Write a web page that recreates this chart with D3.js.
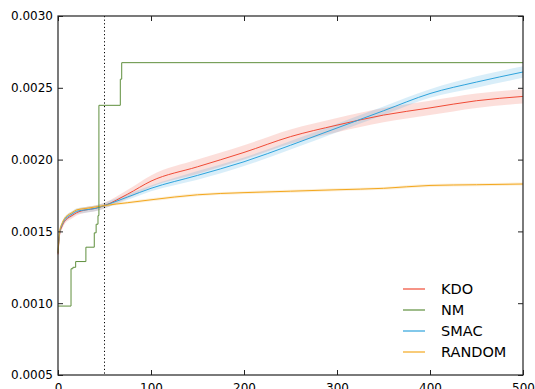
<!DOCTYPE html>
<html>
<head>
<meta charset="utf-8">
<script src="https://cdn.jsdelivr.net/npm/d3@7"></script>
<style>
  body { margin: 0; background: #fff; }
  svg text { font-family: "DejaVu Sans", sans-serif; fill: #000; }
</style>
</head>
<body>
<div id="chart"></div>
<script>
// evaluations (x) at which the averaged curves were read
const iters = [0, 1, 2, 4, 7, 10, 15, 20, 30, 40, 50, 75, 100, 150, 200, 250, 300, 350, 400, 450, 500]
const kdo = [0.00134, 0.00143, 0.00149, 0.00153, 0.00157, 0.00159, 0.00161, 0.00163, 0.00165, 0.00166, 0.00168, 0.00176, 0.00185, 0.00195, 0.00205, 0.00216, 0.00224, 0.00231, 0.00236, 0.00241, 0.00244]
const kdo_err = [0.00002, 0.00002, 0.00002, 0.00002, 0.00002, 0.00002, 0.00002, 0.00002, 0.00002, 0.00002, 0.00002, 0.00003, 0.00004, 0.00005, 0.00005, 0.00005, 0.00005, 0.00005, 0.00005, 0.00005, 0.00005]
const smac = [0.00135, 0.00144, 0.00150, 0.00154, 0.00158, 0.00160, 0.00162, 0.00164, 0.00165, 0.00166, 0.00168, 0.00174, 0.00180, 0.00189, 0.001985, 0.00210, 0.00222, 0.00234, 0.00246, 0.00254, 0.00261]
const smac_err = [0.00002, 0.00002, 0.00002, 0.00002, 0.00002, 0.00002, 0.00002, 0.00002, 0.00002, 0.00002, 0.00002, 0.00002, 0.00002, 0.00003, 0.00003, 0.00003, 0.00003, 0.00003, 0.00003, 0.00004, 0.00004]
const random = [0.00135, 0.00145, 0.00151, 0.00155, 0.00159, 0.00161, 0.00163, 0.00165, 0.00166, 0.00167, 0.00168, 0.00170, 0.00172, 0.001755, 0.00177, 0.00178, 0.00179, 0.00180, 0.00182, 0.001825, 0.00183]
const random_err = [0.00001, 0.00001, 0.00001, 0.00001, 0.00001, 0.00001, 0.00001, 0.00001, 0.00001, 0.00001, 0.00001, 0.00001, 0.00001, 0.00001, 0.00001, 0.00001, 0.00001, 0.00001, 0.00001, 0.00001, 0.00001]

// Nelder-Mead best-so-far (step curve)
const nm_x = [0, 14, 16, 19, 30, 39, 41, 43, 44, 67, 68.5, 500]
const nm_y = [0.00098, 0.00124, 0.00125, 0.00129, 0.00139, 0.00149, 0.00155, 0.00161, 0.002378, 0.00256, 0.002675, 0.002675]

const x_ticks = [0, 100, 200, 300, 400, 500]
const y_ticks = [0.0005, 0.0010, 0.0015, 0.0020, 0.0025, 0.0030]
const legend_names = ["KDO", "NM", "SMAC", "RANDOM"]
const colors = {KDO: "#f04b36", NM: "#5f8f3d", SMAC: "#2ea3dc", RANDOM: "#f3a81f"}
const marker_x = 50

const W = 535, H = 389
const margin = {top: 16, right: 12, bottom: 14, left: 58}
const width = W - margin.left - margin.right
const height = H - margin.top - margin.bottom

const svg = d3.select("#chart").append("svg")
    .attr("width", W)
    .attr("height", H)
const g = svg.append("g")
    .attr("transform", "translate(" + margin.left + "," + margin.top + ")")

const x = d3.scaleLinear().domain([0, 500]).range([0, width])
const y = d3.scaleLinear().domain([0.0005, 0.0030]).range([height, 0])

const series = [
    {name: "KDO", mean: kdo, err: kdo_err},
    {name: "SMAC", mean: smac, err: smac_err},
    {name: "RANDOM", mean: random, err: random_err}
]

// shaded bands
series.forEach(s => {
    const pts = iters.map((it, i) => ({x: it, lo: s.mean[i] - s.err[i], hi: s.mean[i] + s.err[i]}))
    g.append("path")
        .datum(pts)
        .attr("fill", colors[s.name])
        .attr("fill-opacity", 0.18)
        .attr("d", d3.area()
            .curve(d3.curveMonotoneX)
            .x(d => x(d.x))
            .y0(d => y(d.lo))
            .y1(d => y(d.hi)))
})

// dotted marker line
g.append("line")
    .attr("x1", x(marker_x)).attr("x2", x(marker_x))
    .attr("y1", 0).attr("y2", height)
    .attr("stroke", "#000")
    .attr("stroke-width", 1)
    .attr("stroke-dasharray", "1.2,2.4")

// mean lines
series.forEach(s => {
    const pts = iters.map((it, i) => ({x: it, v: s.mean[i]}))
    g.append("path")
        .datum(pts)
        .attr("fill", "none")
        .attr("stroke", colors[s.name])
        .attr("stroke-width", 1)
        .attr("d", d3.line()
            .curve(d3.curveMonotoneX)
            .x(d => x(d.x))
            .y(d => y(d.v)))
})

// NM step line
g.append("path")
    .datum(nm_x.map((v, i) => ({x: v, v: nm_y[i]})))
    .attr("fill", "none")
    .attr("stroke", colors.NM)
    .attr("stroke-width", 1)
    .attr("d", d3.line()
        .curve(d3.curveStepAfter)
        .x(d => x(d.x))
        .y(d => y(d.v)))

// axes, ticks pointing inwards like matplotlib classic
const tickLen = 5
g.append("g")
    .attr("transform", "translate(0," + height + ")")
    .call(d3.axisBottom(x).tickValues(x_ticks).tickSizeInner(-tickLen).tickSizeOuter(0).tickPadding(8))
g.append("g")
    .call(d3.axisTop(x).tickValues(x_ticks).tickSizeInner(-tickLen).tickSizeOuter(0).tickFormat(""))
g.append("g")
    .call(d3.axisLeft(y).tickValues(y_ticks).tickSizeInner(-tickLen).tickSizeOuter(0).tickPadding(5)
        .tickFormat(d3.format(".4f")))
g.append("g")
    .attr("transform", "translate(" + width + ",0)")
    .call(d3.axisRight(y).tickValues(y_ticks).tickSizeInner(-tickLen).tickSizeOuter(0).tickFormat(""))

g.selectAll(".domain").remove()
g.selectAll(".tick line").attr("stroke", "#222")
g.selectAll(".tick text").style("font-size", "12px").attr("fill", "#000")

g.append("rect")
    .attr("width", width).attr("height", height)
    .attr("fill", "none")
    .attr("stroke", "#222")
    .attr("stroke-width", 1.2)

// legend
const legend = g.append("g")
    .attr("transform", "translate(" + (width - 120) + "," + (height - 86) + ")")
legend_names.forEach((name, i) => {
    const row = legend.append("g").attr("transform", "translate(0," + (i * 21) + ")")
    row.append("line")
        .attr("x1", 0).attr("x2", 22)
        .attr("stroke", colors[name])
        .attr("stroke-opacity", 0.6)
        .attr("stroke-width", 2)
    row.append("text")
        .attr("x", 38)
        .attr("dy", "0.35em")
        .style("font-size", "14.5px")
        .text(name)
})
</script>
</body>
</html>
